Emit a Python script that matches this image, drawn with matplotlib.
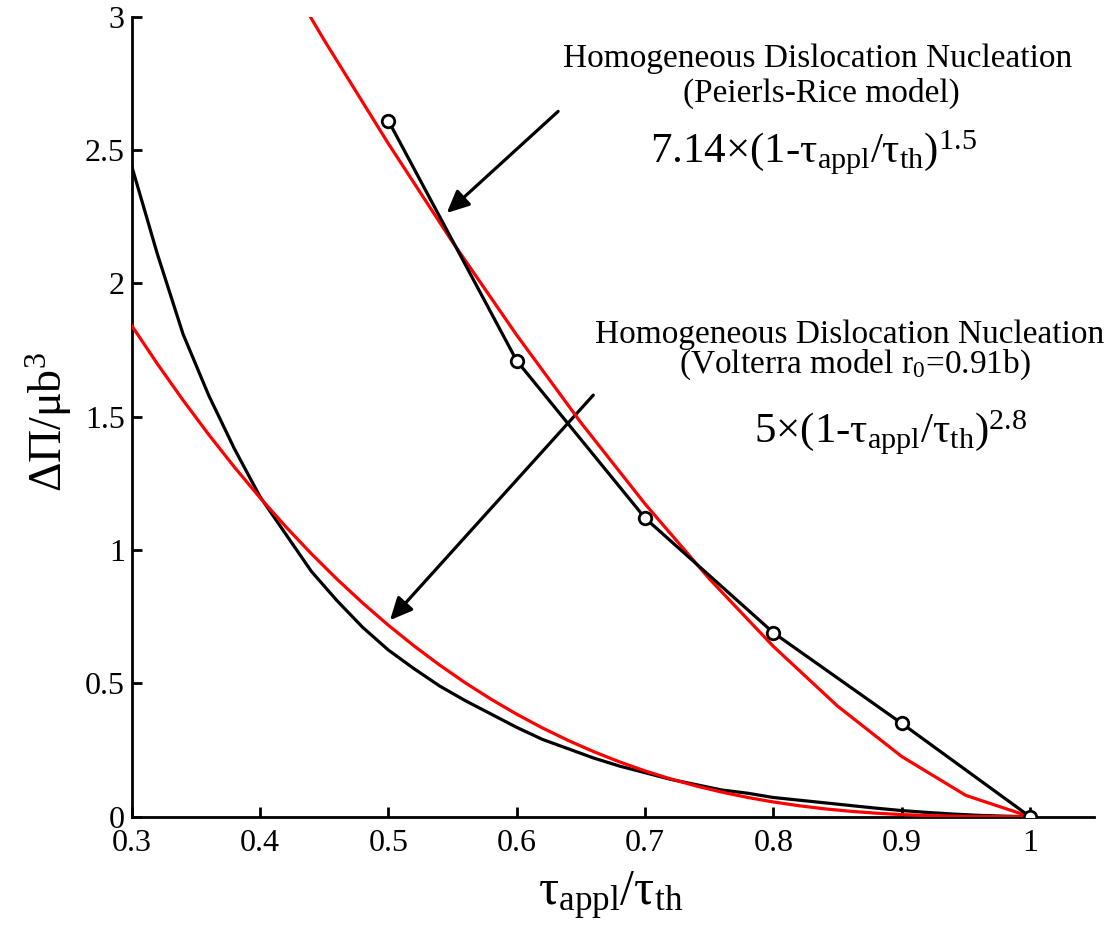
import matplotlib
matplotlib.use("Agg")
import matplotlib.pyplot as plt

plt.rcParams['font.family'] = ['Liberation Serif', 'DejaVu Serif']
plt.rcParams['mathtext.fontset'] = 'custom'
plt.rcParams['mathtext.rm'] = 'Liberation Serif'
plt.rcParams['mathtext.it'] = 'Liberation Serif:italic'
plt.rcParams['mathtext.bf'] = 'Liberation Serif:bold'

# ---- data ----
# Peierls-Rice model (black with circles)
pr_x = [0.5, 0.6, 0.7, 0.8, 0.9, 1.0]
pr_y = [2.61, 1.71, 1.12, 0.69, 0.35, 0.0]

# Fit 7.14*(1-x)^1.5 (red, upper)
fit1_x = [0.30, 0.35, 0.40, 0.45, 0.50, 0.55, 0.60, 0.65, 0.70, 0.75,
          0.80, 0.85, 0.90, 0.95, 1.00]
fit1_y = [4.182, 3.742, 3.318, 2.912, 2.524, 2.155, 1.806, 1.478, 1.173,
          0.8925, 0.6386, 0.4148, 0.2258, 0.0798, 0.0]

# Volterra model r0=0.91b (black, lower)
vol_x = [0.30, 0.32, 0.34, 0.36, 0.38, 0.40, 0.42, 0.44, 0.46, 0.48, 0.50,
         0.52, 0.54, 0.56, 0.58, 0.60, 0.62, 0.64, 0.66, 0.68, 0.70, 0.72,
         0.74, 0.76, 0.78, 0.80, 0.82, 0.84, 0.86, 0.88, 0.90, 0.92, 0.94,
         0.96, 0.98, 1.00]
vol_y = [2.44, 2.11, 1.81, 1.58, 1.38, 1.20, 1.06, 0.92, 0.81, 0.71, 0.625,
         0.555, 0.49, 0.435, 0.385, 0.335, 0.29, 0.255, 0.22, 0.19, 0.165,
         0.14, 0.12, 0.10, 0.088, 0.072, 0.062, 0.052, 0.042, 0.032, 0.023,
         0.016, 0.010, 0.005, 0.002, 0.0]

# Fit 5*(1-x)^2.8 (red, lower)
fit2_x = vol_x
fit2_y = [1.8418, 1.6982, 1.5620, 1.4330, 1.3111, 1.1961, 1.0878, 0.9861,
          0.8906, 0.8013, 0.7179, 0.6404, 0.5685, 0.5019, 0.4406, 0.3844,
          0.3330, 0.2862, 0.2439, 0.2058, 0.1718, 0.1416, 0.1150, 0.0920,
          0.0721, 0.0552, 0.0411, 0.0295, 0.0203, 0.0132, 0.0079, 0.0042,
          0.0019, 0.0006, 0.0001, 0.0]

x_ticks = [0.3, 0.4, 0.5, 0.6, 0.7, 0.8, 0.9, 1.0]
x_ticklabels = ['0.3', '0.4', '0.5', '0.6', '0.7', '0.8', '0.9', '1']
y_ticks = [0, 0.5, 1, 1.5, 2, 2.5, 3]
y_ticklabels = ['0', '0.5', '1', '1.5', '2', '2.5', '3']

W, H = 1107, 938
fig = plt.figure(figsize=(W / 100, H / 100), dpi=100)
ax = fig.add_axes([131.7 / W, 1 - 816.7 / H, (1094.2 - 131.7) / W, (816.7 - 16.7) / H])

lw = 2.3
ax.plot(vol_x, vol_y, color='black', lw=lw, zorder=3)
ax.plot(fit2_x, fit2_y, color='red', lw=lw, zorder=4)
ax.plot(pr_x, pr_y, color='black', lw=lw, marker='o', ms=9, mfc='white',
        mec='black', mew=2.0, zorder=5)
ax.plot(fit1_x, fit1_y, color='red', lw=lw, zorder=4)

ax.set_xlim(0.3, 1.05)
ax.set_ylim(0, 3)
ax.set_xticks(x_ticks)
ax.set_xticklabels(x_ticklabels)
ax.set_yticks(y_ticks)
ax.set_yticklabels(y_ticklabels)
for s in ['top', 'right']:
    ax.spines[s].set_visible(False)
for s in ['left', 'bottom']:
    ax.spines[s].set_linewidth(2.0)
ax.tick_params(direction='in', length=7, width=2.0, labelsize=23)
ax.tick_params(axis='x', pad=9)
ax.tick_params(axis='y', pad=5)

# arrows
arrow_kw = dict(arrowstyle='-|>,head_length=0.75,head_width=0.35',
                lw=2.3, color='black', mutation_scale=18, shrinkA=0, shrinkB=0)
ax.annotate('', xy=(0.5455, 2.264), xytext=(0.6323, 2.645),
            arrowprops=arrow_kw, annotation_clip=False)
ax.annotate('', xy=(0.5013, 0.737), xytext=(0.6597, 1.581),
            arrowprops=arrow_kw, annotation_clip=False)

def ft(px, py, s, size, **kw):
    fig.text(px / W, 1 - py / H, s, fontsize=size, ha='center', va='baseline', **kw)

tau_a = r'$\mathrm{τ}_{\mathrm{appl}}$'
tau_t = r'$\mathrm{τ}_{\mathrm{th}}$'

ft(818, 66.7, 'Homogeneous Dislocation Nucleation', 24)
ft(821, 101.7, '(Peierls-Rice model)', 24)
ft(813, 163, '7.14×(1-' + tau_a + '/' + tau_t + ')' + r'$^{1.5}$', 31)

ft(850, 343, 'Homogeneous Dislocation Nucleation', 24)
ft(855, 373, '(Volterra model r' + r'$_{0}$' + '=0.91b)', 24)
ft(891, 443, '5×(1-' + tau_a + '/' + tau_t + ')' + r'$^{2.8}$', 31)

# axis labels
ft(611, 905, tau_a + '/' + tau_t, 36)
fig.text(62 / W, 1 - 422 / H, r'$\mathrm{ΔΠ/μb}^{3}$', fontsize=33, rotation=90,
         rotation_mode='anchor', ha='center', va='baseline')

fig.savefig('out.png', dpi=100)
